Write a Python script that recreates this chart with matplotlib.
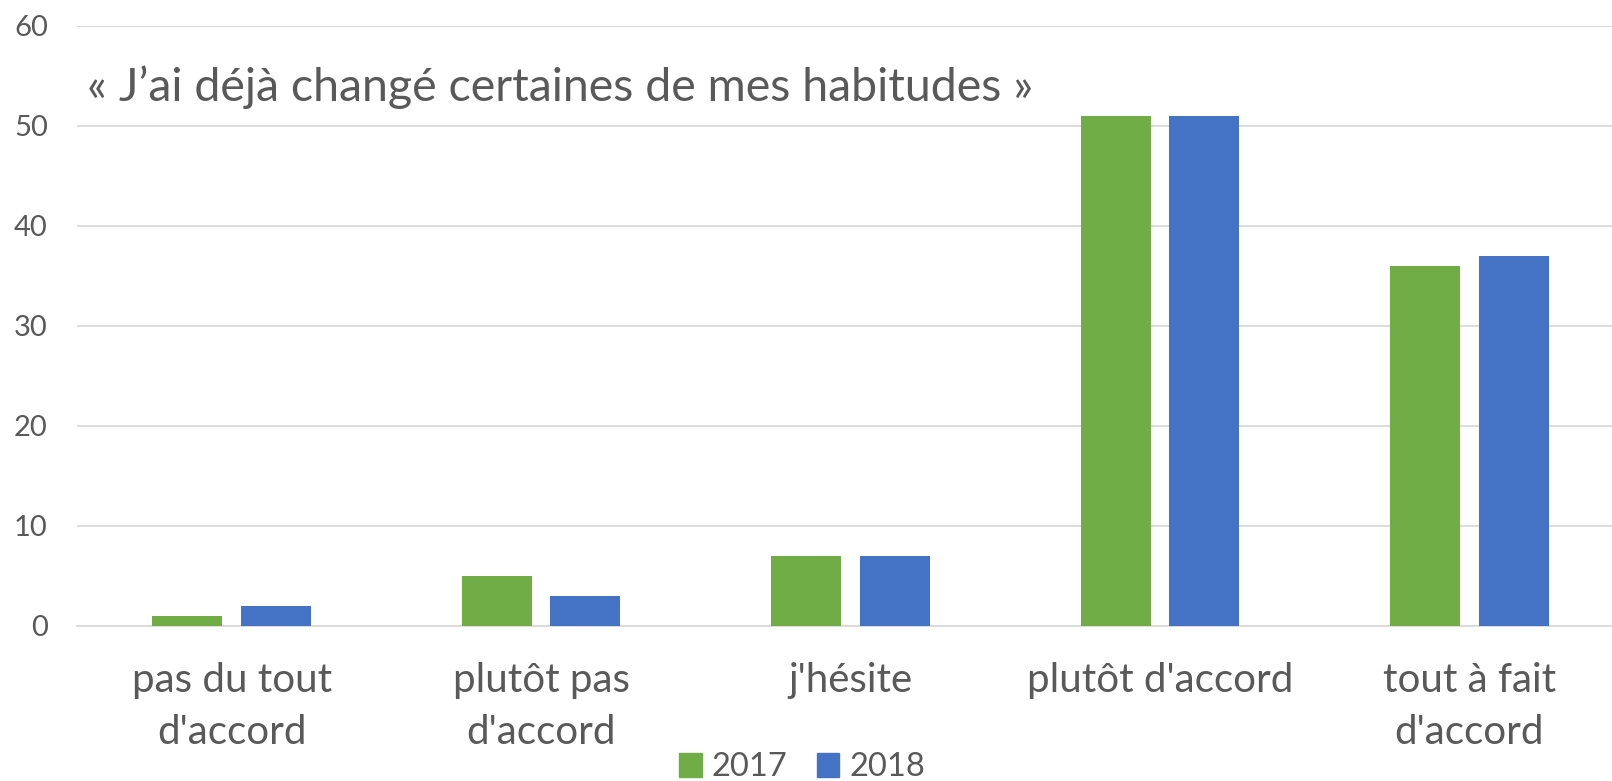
import numpy as np
from matplotlib import pyplot as plt
from matplotlib.patches import Patch

# données
categories = ["pas du tout\nd'accord", "plutôt pas\nd'accord", "j'hésite",
              "plutôt d'accord", "tout à fait\nd'accord"]
values_2017 = [1, 5, 7, 51, 36]
values_2018 = [2, 3, 7, 51, 37]
years = ["2017", "2018"]
yticks = [0, 10, 20, 30, 40, 50, 60]

green = '#70ad47'
blue = '#4472c4'
grey = '#595959'

plt.rcParams['font.family'] = ['Lato', 'DejaVu Sans']

W, H = 1612, 781
fig = plt.figure(figsize=(W / 100, H / 100), dpi=100)
# la zone de tracé dépasse un peu à droite, comme dans l'original
ax = fig.add_axes([77 / W, 1 - 626 / H, 1547 / W, 600 / H])

x = np.arange(len(categories))
w = 0.226
off = 0.143
ax.bar(x - off, values_2017, width=w, color=green, zorder=3)
ax.bar(x + off, values_2018, width=w, color=blue, zorder=3)

ax.set_xlim(-0.5, len(categories) - 0.5)
ax.set_ylim(0, 60)
ax.set_yticks(yticks)
ax.grid(axis='y', color='#d9d9d9', linewidth=1.3, zorder=0)
ax.set_xticks(x)
ax.set_xticklabels(categories, fontsize=29, color=grey, linespacing=1.5)
ax.tick_params(axis='x', length=0, pad=26)
ax.tick_params(axis='y', length=0, pad=21, labelsize=21, labelcolor=grey)
for s in ['top', 'right', 'left']:
    ax.spines[s].set_visible(False)
ax.spines['bottom'].set_color('#d9d9d9')
ax.spines['bottom'].set_linewidth(1.3)

fig.text(87 / W, 1 - 87 / H, "« J’ai déjà changé certaines de mes habitudes »",
         fontsize=33.5, color=grey, ha='left', va='center')

handles = [Patch(color=green), Patch(color=blue)]
fig.legend(handles, years, loc='center', bbox_to_anchor=(802 / W, 1 - 767 / H),
           ncol=2, frameon=False, fontsize=23.5, labelcolor=grey,
           handlelength=0.7, handleheight=0.75, handletextpad=0.3, columnspacing=0.9)

plt.savefig('out.png', dpi=100)
